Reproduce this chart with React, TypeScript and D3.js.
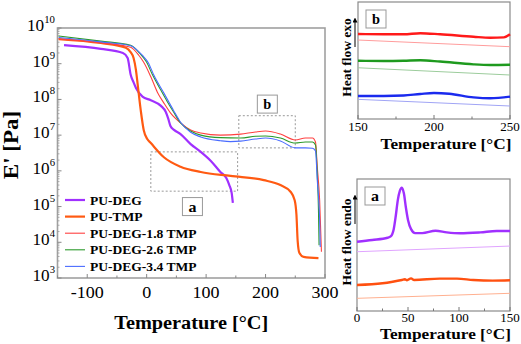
import React from 'react'
import * as d3 from 'd3'

const width = 521
const height = 344
const serif = 'Liberation Serif, Times New Roman, Times, serif'

// main DMA plot: [temperature °C, E' Pa]
const puDeg: [number, number][] = [
  [-139, 3.3e9], [-77, 2.6e9], [-40, 2.0e9], [-32, 1.45e9], [-27, 5.0e8], [-22, 3.0e8],
  [-18, 2.1e8], [-7, 1.2e8], [7, 9.5e7], [24, 6.6e7], [32, 4.5e7], [36, 3.0e7], [40, 1.8e7],
  [46, 1.4e7], [57, 1.07e7], [74, 5.6e6], [91, 3.4e6], [108, 1.9e6], [124, 9.3e5],
  [134, 6.3e5], [139, 4.0e5], [143, 2.4e5], [145, 1.26e5]
]
const puTmp: [number, number][] = [
  [-148, 4.9e9], [-77, 3.8e9], [-35, 2.8e9], [-27, 2.1e9], [-22, 1.45e9], [-18, 6.6e8],
  [-15, 2.5e8], [-10, 5.0e7], [-5, 1.4e7], [1, 7.8e6], [7, 6.0e6], [29, 2.4e6], [57, 1.3e6],
  [91, 9.3e5], [141, 7.2e5], [197, 5.5e5], [225, 4.0e5], [242, 2.6e5], [249, 1.5e5],
  [252, 5.8e4], [254, 1.1e4], [257, 5.0e3], [264, 3.9e3], [289, 3.6e3]
]
const puDeg18: [number, number][] = [
  [-148, 4.9e9], [-77, 3.8e9], [-27, 2.9e9], [-13, 1.7e9], [-5, 1.1e9], [7, 4.3e8],
  [18, 1.6e8], [29, 7.9e7], [40, 4.2e7], [57, 2.2e7], [74, 1.4e7], [91, 1.15e7], [124, 1.0e7],
  [158, 1.07e7], [183, 1.23e7], [200, 1.3e7], [225, 1.07e7], [250, 7.3e6], [267, 8.3e6],
  [279, 8.3e6], [284, 6.4e6], [287, 1.3e6], [291, 1.5e5], [294, 5.4e3]
]
const puDeg26: [number, number][] = [
  [-148, 6.0e9], [-77, 4.3e9], [-27, 3.3e9], [-11, 1.9e9], [0, 1.1e9], [10, 4.8e8],
  [24, 1.8e8], [35, 8.5e7], [45, 4.5e7], [57, 2.2e7], [74, 1.3e7], [91, 1.0e7], [124, 8.5e6],
  [158, 8.3e6], [183, 9.3e6], [200, 9.5e6], [225, 8.3e6], [250, 6.0e6], [267, 6.4e6],
  [279, 6.4e6], [284, 5.3e6], [287, 8e5], [289, 8e4], [290, 8.3e3]
]
const puDeg34: [number, number][] = [
  [-148, 5.4e9], [-77, 4.1e9], [-27, 3.2e9], [-7, 1.7e9], [3, 1.05e9], [12, 4.8e8],
  [29, 1.5e8], [45, 5.0e7], [57, 2.3e7], [74, 1.2e7], [91, 8.9e6], [124, 7.0e6], [141, 6.6e6],
  [158, 6.8e6], [183, 7.8e6], [200, 8.3e6], [225, 6.9e6], [250, 4.4e6], [267, 4.4e6],
  [279, 4.3e6], [284, 3.6e6], [287, 5.5e5], [291, 4.2e4], [292, 7.4e3]
]
const seriesNames = ['PU-DEG', 'PU-TMP', 'PU-DEG-1.8 TMP', 'PU-DEG-2.6 TMP', 'PU-DEG-3.4 TMP']
const seriesColors = ['#a030ff', '#ff5a12', '#ff4040', '#2c9a2c', '#4a6cff']
const seriesWidths = [2.2, 2.2, 1.1, 1.1, 1.1]
const xTicks = [-100, 0, 100, 200, 300]
const yExponents = [3, 4, 5, 6, 7, 8, 9, 10]

// zoom regions marked on the main plot
const regionA = { t: [7, 153], e: [2.7e5, 3.4e6], label: [77, 1.0e5] }
const regionB = { t: [155, 250], e: [4.4e6, 3.5e7], label: [203, 7.4e7] }

// inset b (DSC 150-250 °C), heat flow in arbitrary units
const dscRed: [number, number][] = [
  [150, 7.26], [167, 7.24], [180, 7.24], [191, 7.33], [204, 7.24], [226, 7.03], [237, 6.95],
  [246, 6.98], [250, 7.24]
]
const dscRedBase: [number, number][] = [[150, 6.75], [250, 6.18]]
const dscGreen: [number, number][] = [
  [150, 4.98], [167, 4.96], [180, 4.98], [191, 5.02], [204, 4.91], [226, 4.67], [237, 4.62],
  [250, 4.64]
]
const dscGreenBase: [number, number][] = [[150, 4.38], [250, 3.76]]
const dscBlue: [number, number][] = [
  [150, 1.97], [167, 1.97], [180, 2.01], [191, 2.14], [200, 2.22], [210, 2.16], [226, 1.85],
  [237, 1.77], [250, 1.91]
]
const dscBlueBase: [number, number][] = [[150, 1.68], [250, 1.11]]

// inset a (DSC 0-150 °C)
const dscDeg: [number, number][] = [
  [0, 5.25], [15, 5.38], [30, 5.55], [33, 5.65], [36, 6.2], [38, 7.2], [40, 8.4], [42, 9.1],
  [44, 9.35], [46, 8.9], [48, 7.8], [50, 6.9], [53, 6.2], [57, 5.9], [64, 5.9], [77, 6.08],
  [88, 5.96], [101, 5.89], [121, 5.96], [137, 6.06], [150, 6.06]
]
const dscDegBase: [number, number][] = [[0, 4.49], [150, 4.92]]
const dscTmp: [number, number][] = [
  [0, 1.97], [25, 2.1], [35, 2.22], [44, 2.35], [47, 2.4], [49, 2.33], [53, 2.47], [56, 2.35],
  [81, 2.45], [98, 2.45], [114, 2.35], [133, 2.3], [150, 2.33]
]
const dscTmpBase: [number, number][] = [[0, 0.96], [150, 1.34]]

const x = d3.scaleLinear().domain([-150, 300]).range([57.5, 325])
const y = d3.scaleLog().domain([1e3, 1e10]).range([278, 28])

const xb = d3.scaleLinear().domain([150, 250]).range([358, 510])
const yb = d3.scaleLinear().domain([0, 10]).range([119, 2])
const xa = d3.scaleLinear().domain([0, 150]).range([357, 510])
const ya = d3.scaleLinear().domain([0, 10]).range([311, 179])

const mainLine = d3.line<[number, number]>().x(d => x(d[0])).y(d => y(d[1])).curve(d3.curveMonotoneX)
const lineB = d3.line<[number, number]>().x(d => xb(d[0])).y(d => yb(d[1])).curve(d3.curveMonotoneX)
const lineA = d3.line<[number, number]>().x(d => xa(d[0])).y(d => ya(d[1])).curve(d3.curveMonotoneX)

// Times-like advance widths (em), the only serif here is DejaVu so text gets squeezed to these
const boldW: Record<string, number> = {
  P: .611, U: .722, D: .722, E: .667, G: .778, T: .667, M: .944, C: .722, H: .778,
  e: .444, m: .833, p: .556, r: .444, a: .5, t: .333, u: .556, f: .333, l: .278, o: .5,
  w: .722, x: .5, n: .556, d: .556, '-': .333, '.': .25, ' ': .25, '[': .333, ']': .333,
  '°': .4, "'": .278
}
const regW: Record<string, number> = { '-': .333, '.': .25, ' ': .25 }
const tw = (s: string, size: number, bold = false) =>
  s.split('').reduce((acc, c) => acc + ((bold ? boldW : regW)[c] ?? 0.5), 0) * size

const T = ({ s, size, bold = false, ...rest }: any) => (
  <text fontSize={size * 0.9} fontWeight={bold ? 'bold' : 'normal'} fontFamily={serif}
    textLength={tw(s, size, bold)} lengthAdjust='spacingAndGlyphs' {...rest}>{s}</text>
)

const LabelBox = ({ cx, cy, text }: { cx: number, cy: number, text: string }) => (
  <g>
    <rect x={cx - 10} y={cy - 9} width={20} height={18} fill='white' stroke='#999' strokeWidth={1} />
    <T s={text} size={16} bold x={cx} y={cy + 5} textAnchor='middle' />
  </g>
)

const Inset = ({ xs, ys, ticks, minor, labelY, titleY, ylabel, label }: any) => {
  const [x0, x1] = xs.range()
  const [y0, y1] = ys.range()
  const cy = (y0 + y1) / 2
  return (
    <g>
      <rect x={x0} y={y1} width={x1 - x0} height={y0 - y1} fill='none' stroke='#8a8a8a' strokeWidth={1.2} />
      {ticks.map((t: number) => (
        <g key={t}>
          <line x1={xs(t)} x2={xs(t)} y1={y0} y2={y0 - 4} stroke='#777' />
          <T s={String(t)} size={13} x={xs(t)} y={labelY} textAnchor='middle' />
        </g>
      ))}
      {minor.map((t: number) => (
        <line key={t} x1={xs(t)} x2={xs(t)} y1={y0} y2={y0 - 2.5} stroke='#777' />
      ))}
      <T s='Temperature [°C]' size={17} bold x={(x0 + x1) / 2 + 12} y={titleY} textAnchor='middle' />
      <T s={ylabel} size={13.5} bold transform={`translate(351, ${cy - 3}) rotate(-90)`} textAnchor='middle' />
      <line x1={355} x2={355} y1={y1 + 45} y2={y1 + 18} stroke='black' strokeWidth={1} markerEnd='url(#arrow)' />
      <LabelBox cx={x0 + 18} cy={y1 + 17} text={label} />
    </g>
  )
}

const App = () => {
  const mainSeries = [puDeg, puTmp, puDeg18, puDeg26, puDeg34]
  const minorY: number[] = []
  yExponents.slice(0, -1).forEach(e => {
    for (let k = 2; k < 10; k++) minorY.push(k * Math.pow(10, e))
  })
  const minorX = d3.range(-150, 301, 50).filter(t => !xTicks.includes(t))

  return (
    <svg width={width} height={height} style={{ position: 'absolute', left: 0, top: 0, background: 'white' }}>
      <defs>
        <marker id='arrow' viewBox='0 0 10 10' refX='5' refY='5' markerWidth='5' markerHeight='5' orient='auto'>
          <path d='M0,0 L10,5 L0,10 z' fill='black' />
        </marker>
        <clipPath id='mainClip'>
          <rect x={x.range()[0]} y={y.range()[1]} width={x.range()[1] - x.range()[0]} height={y.range()[0] - y.range()[1]} />
        </clipPath>
      </defs>

      {/* main frame */}
      <rect x={x.range()[0]} y={y.range()[1]} width={x.range()[1] - x.range()[0]} height={y.range()[0] - y.range()[1]}
        fill='none' stroke='#a0a0a0' strokeWidth={1.6} />
      {xTicks.map(t => (
        <g key={t}>
          <line x1={x(t)} x2={x(t)} y1={y.range()[0]} y2={y.range()[0] - 4} stroke='#888' />
          <T s={String(t)} size={18} x={x(t)} y={298} textAnchor='middle' />
        </g>
      ))}
      {minorX.map(t => (
        <line key={t} x1={x(t)} x2={x(t)} y1={y.range()[0]} y2={y.range()[0] - 2.5} stroke='#888' />
      ))}
      {yExponents.map(e => (
        <g key={e}>
          <line x1={x.range()[0]} x2={x.range()[0] + 4} y1={y(Math.pow(10, e))} y2={y(Math.pow(10, e))} stroke='#888' />
          <text x={55} y={y(Math.pow(10, e)) + 3} textAnchor='end' fontSize={16} fontFamily={serif}
            textLength={17 + String(e).length * 5.5} lengthAdjust='spacingAndGlyphs'>
            10<tspan dy={-8} fontSize={10}>{e}</tspan>
          </text>
        </g>
      ))}
      {minorY.map((v, i) => (
        <line key={i} x1={x.range()[0]} x2={x.range()[0] + 2} y1={y(v)} y2={y(v)} stroke='#999' strokeWidth={0.8} />
      ))}
      <T s='Temperature [°C]' size={20} bold x={(x.range()[0] + x.range()[1]) / 2} y={329} textAnchor='middle' />
      <T s="E' [Pa]" size={23} bold transform='translate(18, 145) rotate(-90)' textAnchor='middle' />

      {/* zoom regions */}
      <rect x={x(regionA.t[0])} y={y(regionA.e[1])} width={x(regionA.t[1]) - x(regionA.t[0])}
        height={y(regionA.e[0]) - y(regionA.e[1])} fill='none' stroke='#999' strokeDasharray='2,2' />
      <rect x={x(regionB.t[0])} y={y(regionB.e[1])} width={x(regionB.t[1]) - x(regionB.t[0])}
        height={y(regionB.e[0]) - y(regionB.e[1])} fill='none' stroke='#999' strokeDasharray='2,2' />

      <g clipPath='url(#mainClip)'>
        {mainSeries.map((s, i) => (
          <path key={i} d={mainLine(s) || ''} fill='none' stroke={seriesColors[i]} strokeWidth={seriesWidths[i]} />
        ))}
      </g>

      <LabelBox cx={x(regionA.label[0])} cy={y(regionA.label[1])} text='a' />
      <LabelBox cx={x(regionB.label[0])} cy={y(regionB.label[1])} text='b' />

      {/* legend */}
      {seriesNames.map((n, i) => (
        <g key={n} transform={`translate(65, ${200 + i * 16.6})`}>
          <line x1={0} x2={20} y1={0} y2={0} stroke={seriesColors[i]} strokeWidth={seriesWidths[i]} />
          <T s={n} size={13.5} bold x={25} y={4.5} />
        </g>
      ))}

      {/* inset b */}
      <Inset xs={xb} ys={yb} ticks={[150, 200, 250]} minor={[175, 225]} labelY={131} titleY={149}
        ylabel='Heat flow exo' label='b' />
      <path d={lineB(dscRedBase) || ''} fill='none' stroke='#ff9c9c' strokeWidth={1} />
      <path d={lineB(dscGreenBase) || ''} fill='none' stroke='#9ccc9c' strokeWidth={1} />
      <path d={lineB(dscBlueBase) || ''} fill='none' stroke='#a0a4f5' strokeWidth={1} />
      <path d={lineB(dscRed) || ''} fill='none' stroke='#ff1a1a' strokeWidth={2.4} />
      <path d={lineB(dscGreen) || ''} fill='none' stroke='#1e9a1e' strokeWidth={2.4} />
      <path d={lineB(dscBlue) || ''} fill='none' stroke='#1a2aee' strokeWidth={2.4} />

      {/* inset a */}
      <Inset xs={xa} ys={ya} ticks={[0, 50, 100, 150]} minor={[25, 75, 125]} labelY={322} titleY={339}
        ylabel='Heat flow endo' label='a' />
      <path d={lineA(dscDegBase) || ''} fill='none' stroke='#e0a4ff' strokeWidth={1} />
      <path d={lineA(dscTmpBase) || ''} fill='none' stroke='#ffb090' strokeWidth={1} />
      <path d={lineA(dscDeg) || ''} fill='none' stroke='#a030ff' strokeWidth={2.4} />
      <path d={lineA(dscTmp) || ''} fill='none' stroke='#ff5010' strokeWidth={2.4} />
    </svg>
  )
}

export default App
